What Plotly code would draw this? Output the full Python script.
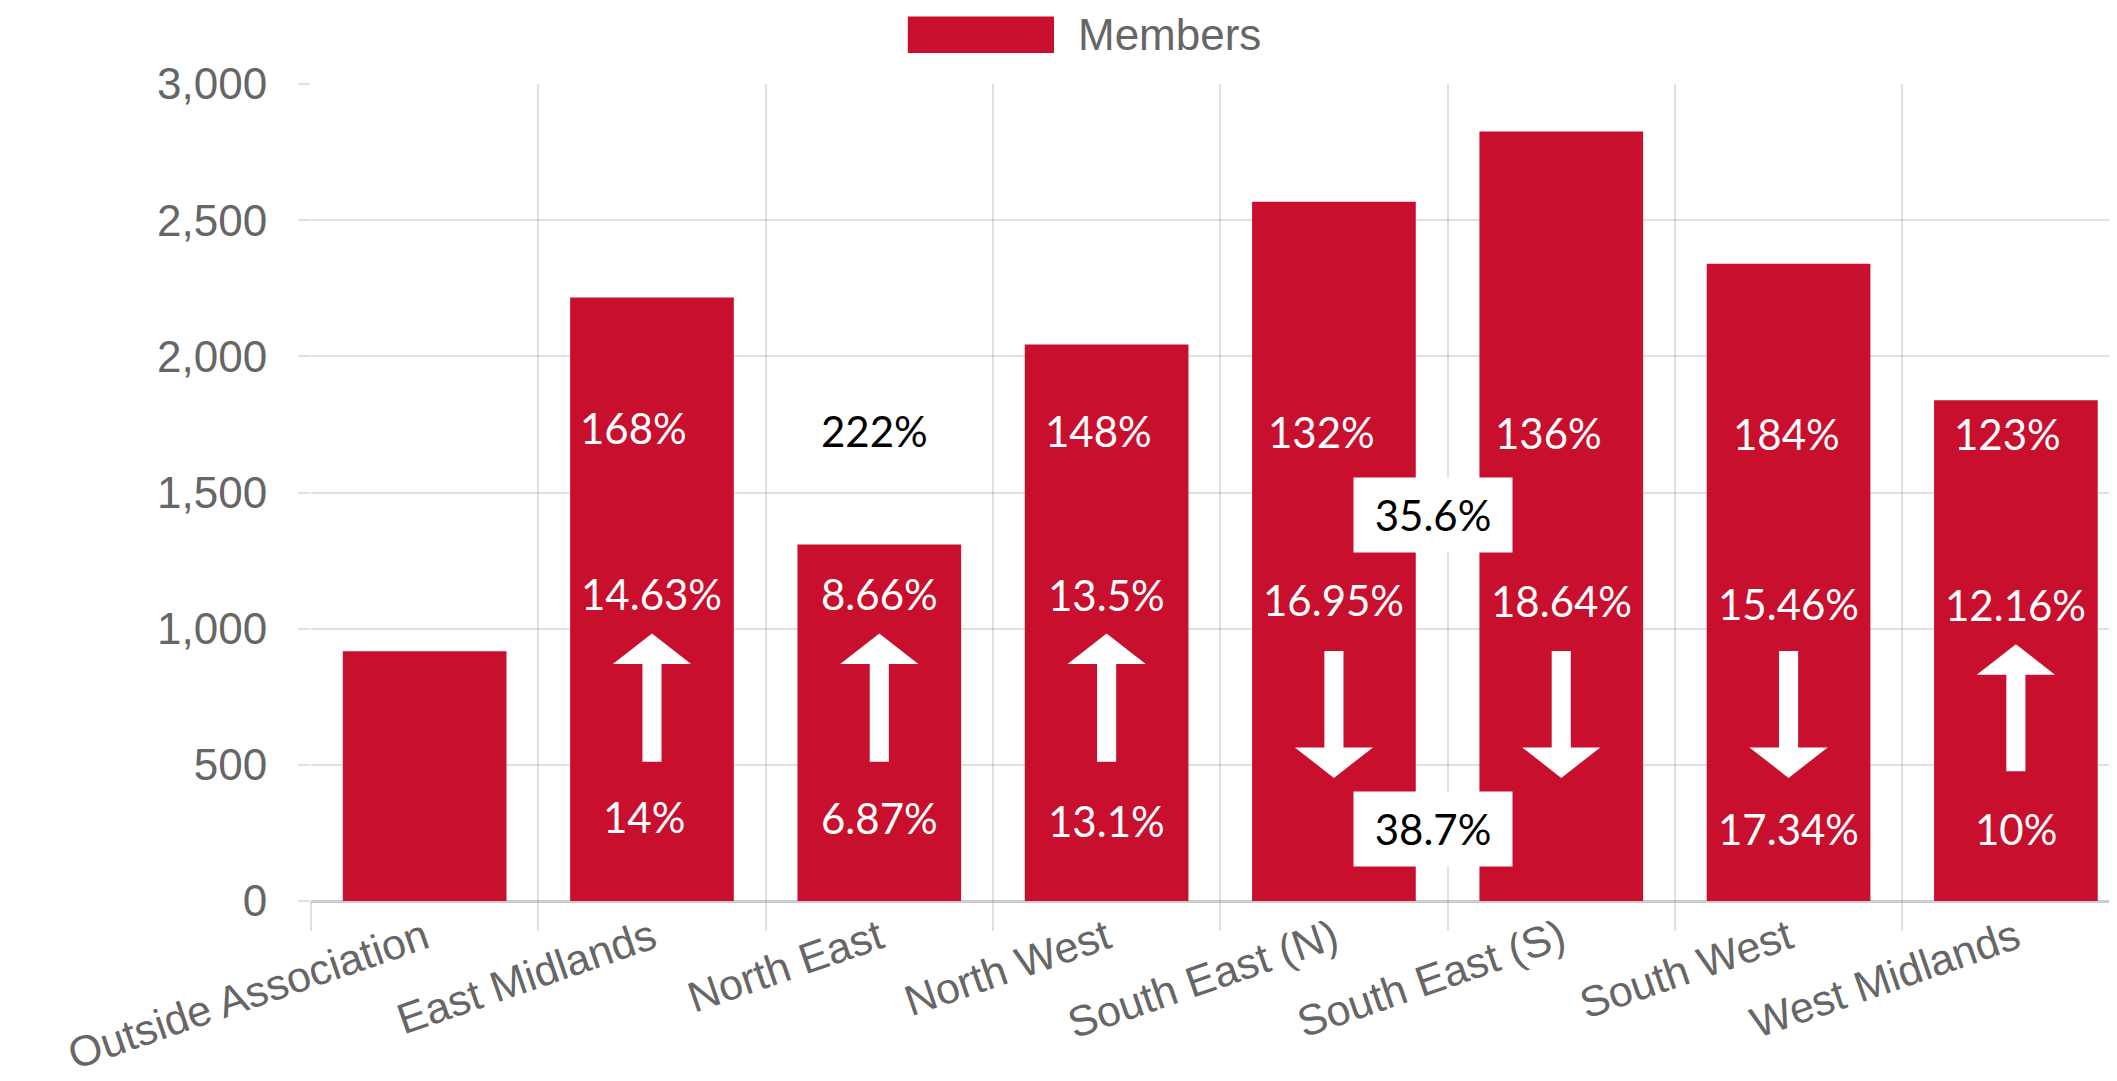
import plotly.graph_objects as go

# ---------------- data ----------------
categories = ["Outside Association", "East Midlands", "North East", "North West",
              "South East (N)", "South East (S)", "South West", "West Midlands"]
members = [917, 2216, 1309, 2043, 2568, 2826, 2340, 1839]

top_labels = [None, "168%", "222%", "148%", "132%", "136%", "184%", "123%"]
mid_labels = [None, "14.63%", "8.66%", "13.5%", "16.95%", "18.64%", "15.46%", "12.16%"]
bottom_labels = [None, "14%", "6.87%", "13.1%", None, None, "17.34%", "10%"]
box_labels = ["35.6%", "38.7%"]

# label anchor heights (in axis units)
top_y = [None, 1737, 1726, 1726, 1722, 1718, 1714, 1714]
mid_y = [None, 1127, 1127, 1123, 1105, 1101, 1091, 1087]
bottom_y = [None, 308, 303, 294, None, None, 264, 264]
# small horizontal nudges of the pasted labels (category units)
top_dx = [0, -0.08, -0.02, -0.035, -0.055, -0.055, -0.01, -0.035]
bottom_dx = [0, -0.035, 0, 0, 0, 0, 0, 0]
box_x = 4.436
box_y = [1417, 264]

# arrows: tail and tip heights (axis units)
arrow_tail = [None, 511, 511, 511, 918, 918, 918, 476]
arrow_tip = [None, 982, 982, 982, 452, 452, 452, 943]

y_ticks = [0, 500, 1000, 1500, 2000, 2500, 3000]

BAR = "#C8102E"
GRID = "rgba(0,0,0,0.12)"
TICKFONT = dict(family="Liberation Sans, Arial, sans-serif", size=44, color="#666666")
XTICKFONT = dict(family="Liberation Sans, Arial, sans-serif", size=43, color="#666666")
NOTEFONT = "Lato, Calibri, sans-serif"

fig = go.Figure()
fig.add_trace(go.Bar(x=categories, y=members, name="Members",
                     marker=dict(color=BAR, line=dict(width=0)),
                     showlegend=False, hoverinfo="x+y"))

annotations = []
shapes = []

def add_text(i, txt, y, dx=0):
    if txt is None or y is None:
        return
    col = "white" if y < members[i] else "black"
    annotations.append(dict(x=i + dx, y=y, xref="x", yref="y", text=txt, showarrow=False,
                            font=dict(family=NOTEFONT, size=42, color=col),
                            xanchor="center", yanchor="middle"))

for i in range(len(categories)):
    add_text(i, top_labels[i], top_y[i], top_dx[i])
    add_text(i, mid_labels[i], mid_y[i])
    add_text(i, bottom_labels[i], bottom_y[i], bottom_dx[i])

for txt, y in zip(box_labels, box_y):
    annotations.append(dict(x=box_x, y=y, xref="x", yref="y", text=txt, showarrow=False,
                            font=dict(family=NOTEFONT, size=42, color="black"),
                            bgcolor="white", width=136, height=52, borderpad=11,
                            xanchor="center", yanchor="middle"))

HEAD_HW = 0.172
SHAFT_HW = 0.042
HEAD_LEN = 112
for i in range(len(categories)):
    t, p = arrow_tail[i], arrow_tip[i]
    if t is None:
        continue
    d = 1 if p > t else -1
    base = p - d * HEAD_LEN
    path = (f"M {i-SHAFT_HW},{t} L {i+SHAFT_HW},{t} L {i+SHAFT_HW},{base} "
            f"L {i+HEAD_HW},{base} L {i},{p} L {i-HEAD_HW},{base} L {i-SHAFT_HW},{base} Z")
    shapes.append(dict(type="path", path=path, xref="x", yref="y",
                       fillcolor="white", line=dict(width=0), layer="above"))

# legend drawn as a wide swatch + label (Chart.js style)
shapes.append(dict(type="rect", xref="paper", yref="paper",
                   x0=0.329, x1=0.4096, y0=1.038, y1=1.0826,
                   fillcolor=BAR, line=dict(width=0)))
annotations.append(dict(x=0.4215, y=1.06, xref="paper", yref="paper", text="Members",
                        showarrow=False, xanchor="left", yanchor="middle",
                        font=dict(family="Liberation Sans, Arial, sans-serif", size=44,
                                  color="#666666")))

fig.update_layout(
    width=2117, height=1081,
    margin=dict(l=303, r=0, t=76, b=188),
    paper_bgcolor="white", plot_bgcolor="white",
    bargap=0.28,
    shapes=shapes, annotations=annotations,
    xaxis=dict(type="category", range=[-0.5, 7.48], tickson="boundaries",
               showgrid=True, gridcolor=GRID, gridwidth=1.5,
               ticks="outside", ticklen=29, tickcolor=GRID, tickwidth=1.5,
               tickangle=-19, tickfont=XTICKFONT, ticklabelstandoff=3,
               showline=False, zeroline=False),
    yaxis=dict(range=[0, 3000], tickvals=y_ticks, tickformat=",",
               showgrid=True, gridcolor=GRID, gridwidth=1.5,
               ticks="outside", ticklen=12, tickcolor=GRID, tickwidth=1.5,
               ticklabelstandoff=22, tickfont=TICKFONT,
               zeroline=True, zerolinecolor="rgba(0,0,0,0.2)", zerolinewidth=3,
               showline=False),
)

fig.write_html("out.html")
